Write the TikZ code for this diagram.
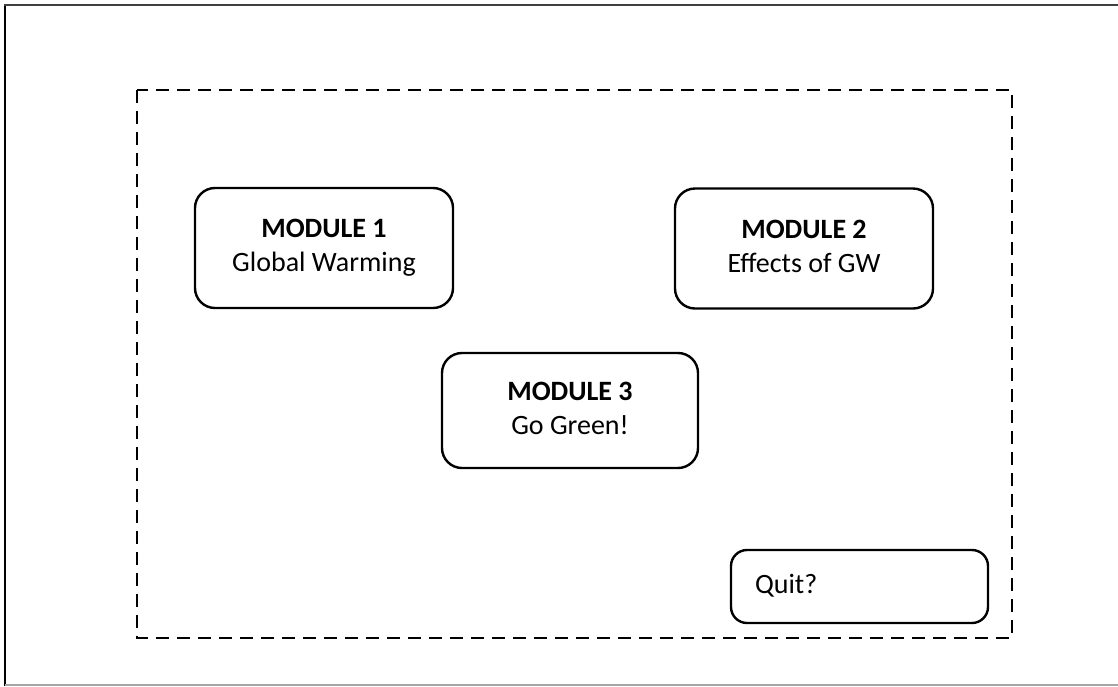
\documentclass[tikz,border=0pt]{standalone}
\usepackage{fontspec}
\setmainfont{Carlito}
\begin{document}
\begin{tikzpicture}[x=1pt,y=-1pt,
  modbox/.style={draw=black, line width=2.4pt, rounded corners=20pt, inner sep=0pt,
    align=center, font=\fontsize{28}{34}\selectfont},
  quitbox/.style={draw=black, line width=2.4pt, rounded corners=16pt, inner xsep=24pt, inner ysep=0pt,
    align=left, font=\fontsize{28}{34}\selectfont},
  dashframe/.style={draw=black, line width=2.8pt, dash pattern=on 13pt off 8pt},
  pageline/.style={line width=2.2pt}]
\useasboundingbox (0,0) rectangle (1118,686);
% outer page lines
\draw[pageline, black] (5,4) -- (5,686);
\draw[pageline, black!75] (4,5) -- (1118,5);
\draw[line width=1.5pt, black!35] (5,685) -- (1118,685);
% dashed frame
\draw[dashframe] (137,90) rectangle (1012,638);
% modules
\node[modbox, minimum width=258pt, minimum height=120pt] (m1) at (324,248)
  {\textbf{MODULE 1}\\Global Warming\vphantom{g}};
\node[modbox, minimum width=258pt, minimum height=120pt] (m2) at (804,248.5)
  {\textbf{MODULE 2}\\Effects of GW\vphantom{g}};
\node[modbox, minimum width=256pt, minimum height=115pt] (m3) at (570,410.5)
  {\textbf{MODULE 3}\\Go Green!\vphantom{g}};
\node[quitbox, text width=209pt, minimum height=73pt] (q) at (859.5,586.5) {Quit?\vphantom{g}};
\end{tikzpicture}
\end{document}
